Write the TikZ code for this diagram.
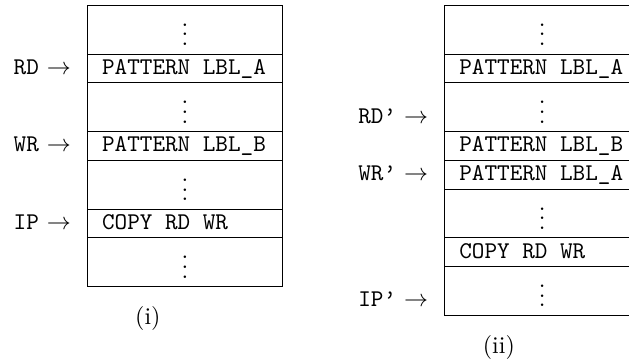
\documentclass[tikz,border=0pt]{standalone}
\usetikzlibrary{positioning,calc}
\newcommand{\ttsp}{\hspace*{0.525em}}
\tikzset{
  cell/.style={draw, line width=0.4pt, inner xsep=6pt, inner ysep=0pt, outer sep=0pt, text width=69pt},
  textrow/.style={cell, font=\ttfamily, text height=8.5pt, text depth=3.5pt, minimum height=12pt},
  dotrow/.style={cell, align=center, font=\rmfamily, text height=16.8pt, text depth=3.5pt, minimum height=20.3pt},
  lbl/.style={inner sep=0pt, outer sep=0pt, anchor=base east},
  captxt/.style={inner sep=0pt, anchor=base},
}
\begin{document}
\begin{tikzpicture}
\useasboundingbox (0,0) rectangle (262.08pt,-151.25pt);
\clip (0,0) rectangle (262.08pt,-151.25pt);
% ---- (i) ----
\node[dotrow, anchor=north west] (a1) at (36.54pt,-2.2pt) {$\vdots$};
\node[textrow, below=0pt of a1] (a2) {PATTERN\ttsp LBL\_A};
\node[dotrow, below=0pt of a2] (a3) {$\vdots$};
\node[textrow, below=0pt of a3] (a4) {PATTERN\ttsp LBL\_B};
\node[dotrow, below=0pt of a4] (a5) {$\vdots$};
\node[textrow, below=0pt of a5] (a6) {COPY\ttsp RD\ttsp WR};
\node[dotrow, below=0pt of a6] (a7) {$\vdots$};
\node[lbl] (rd) at ([xshift=-7pt]a2.base west) {\texttt{RD} $\rightarrow$};
\node[lbl] (wr) at ([xshift=-7pt]a4.base west) {\texttt{WR} $\rightarrow$};
\node[lbl] (ip) at ([xshift=-7pt]a6.base west) {\texttt{IP} $\rightarrow$};
\node[captxt, yshift=-15.75pt] (ci) at ($(rd.west |- a7.south)!0.5!(a7.south east)$) {(i)};
% ---- (ii) ----
\node[dotrow, anchor=north west] (b1) at (185.4pt,-2.2pt) {$\vdots$};
\node[textrow, below=0pt of b1] (b2) {PATTERN\ttsp LBL\_A};
\node[dotrow, below=0pt of b2] (b3) {$\vdots$};
\node[textrow, below=0pt of b3] (b4) {PATTERN\ttsp LBL\_B};
\node[textrow, below=0pt of b4] (b5) {PATTERN\ttsp LBL\_A};
\node[dotrow, below=0pt of b5] (b6) {$\vdots$};
\node[textrow, below=0pt of b6] (b7) {COPY\ttsp RD\ttsp WR};
\node[dotrow, below=0pt of b7] (b8) {$\vdots$};
\node[lbl] (rdp) at ([xshift=-7pt]b3.base west) {\texttt{RD’} $\rightarrow$};
\node[lbl] (wrp) at ([xshift=-7pt]b5.base west) {\texttt{WR’} $\rightarrow$};
\node[lbl] (ipp) at ([xshift=-7pt]b8.base west) {\texttt{IP’} $\rightarrow$};
\node[captxt, yshift=-15.75pt] (cii) at ($(rdp.west |- b8.south)!0.5!(b8.south east)$) {(ii)};
\end{tikzpicture}
\end{document}
